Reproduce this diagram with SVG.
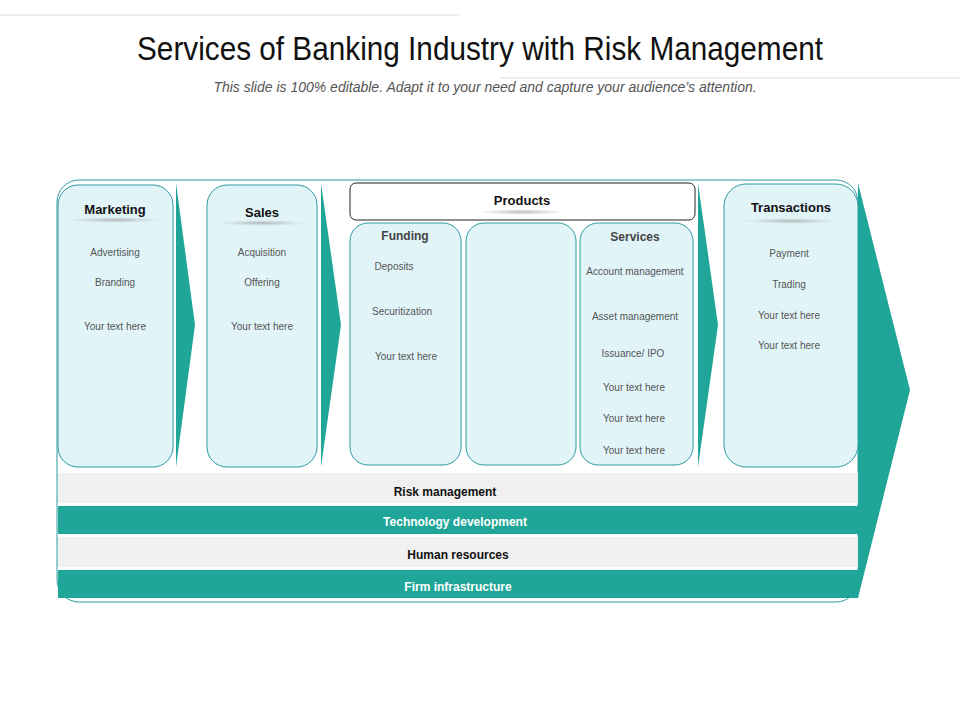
<svg xmlns="http://www.w3.org/2000/svg" width="960" height="720" viewBox="0 0 960 720">
<defs>
<style>
.col{fill:#e1f4f8;stroke:#2f9aa2;stroke-width:1}
.tl{font-family:"Liberation Sans",Arial,sans-serif;font-weight:bold;font-size:13px;fill:#111;text-anchor:middle}
.it{font-family:"Liberation Sans",Arial,sans-serif;font-size:10px;fill:#555;text-anchor:middle}
.bl{font-family:"Liberation Sans",Arial,sans-serif;font-weight:bold;font-size:12px;text-anchor:middle}
.teal{fill:#1fa698}
</style>
<radialGradient id="sh" cx="0.5" cy="0.5" r="0.5"><stop offset="0" stop-color="#999" stop-opacity="0.7"/><stop offset="1" stop-color="#bbb" stop-opacity="0"/></radialGradient>
</defs>
<rect width="960" height="720" fill="#fff"/>
<line x1="0" y1="15" x2="460" y2="15" stroke="#ddd"/>
<line x1="500" y1="78" x2="960" y2="78" stroke="#ddd"/>
<text x="480" y="60" font-family="'Liberation Sans Narrow','Liberation Sans',Arial,sans-serif" font-size="33" text-anchor="middle" fill="#111" textLength="686" lengthAdjust="spacingAndGlyphs">Services of Banking Industry with Risk Management</text>
<text x="485" y="92" font-family="'Liberation Sans',Arial,sans-serif" font-style="italic" font-size="14" text-anchor="middle" fill="#555">This slide is 100% editable. Adapt it to your need and capture your audience’s attention.</text>
<g id="frame">
<rect x="57" y="180" width="801" height="422" rx="22" fill="none" stroke="#2f9aa2"/>
<polygon class="teal" points="858,183 910,390 858,598"/>
<polygon class="teal" points="176,183 195,325 176,467"/>
<polygon class="teal" points="321,183 341,325 321,467"/>
<polygon class="teal" points="698,183 718,325 698,467"/>
</g>
<g id="marketing">
<rect class="col" x="58" y="185" width="115" height="282" rx="20"/>
<ellipse cx="115" cy="220" rx="50" ry="3" fill="url(#sh)"/>
<text class="tl" x="115" y="214">Marketing</text>
<text class="it" x="115" y="256">Advertising</text>
<text class="it" x="115" y="286">Branding</text>
<text class="it" x="115" y="330">Your text here</text>
</g>
<g id="sales">
<rect class="col" x="207" y="185" width="110" height="282" rx="20"/>
<ellipse cx="262" cy="223" rx="45" ry="3" fill="url(#sh)"/>
<text class="tl" x="262" y="217">Sales</text>
<text class="it" x="262" y="256">Acquisition</text>
<text class="it" x="262" y="286">Offering</text>
<text class="it" x="262" y="330">Your text here</text>
</g>
<g id="products">
<rect x="350" y="183" width="345" height="37" rx="6" fill="#fff" stroke="#222"/>
<ellipse cx="522" cy="212" rx="45" ry="3" fill="url(#sh)"/>
<text class="tl" x="522" y="205">Products</text>
</g>
<g id="funding">
<rect class="col" x="350" y="223" width="111" height="242" rx="18"/>
<text class="tl" x="405" y="240" style="fill:#444;font-size:12px">Funding</text>
<text class="it" x="394" y="270">Deposits</text>
<text class="it" x="402" y="315">Securitization</text>
<text class="it" x="406" y="360">Your text here</text>
</g>
<g id="blank">
<rect class="col" x="466" y="223" width="110" height="242" rx="18"/>
</g>
<g id="services">
<rect class="col" x="580" y="223" width="113" height="242" rx="18"/>
<text class="tl" x="635" y="241" style="fill:#444;font-size:12px">Services</text>
<text class="it" x="635" y="275">Account management</text>
<text class="it" x="635" y="320">Asset management</text>
<text class="it" x="633" y="357">Issuance/ IPO</text>
<text class="it" x="634" y="391">Your text here</text>
<text class="it" x="634" y="422">Your text here</text>
<text class="it" x="634" y="454">Your text here</text>
</g>
<g id="transactions">
<rect class="col" x="724" y="184" width="134" height="283" rx="22"/>
<ellipse cx="791" cy="221" rx="50" ry="3" fill="url(#sh)"/>
<text class="tl" x="791" y="212">Transactions</text>
<text class="it" x="789" y="257">Payment</text>
<text class="it" x="789" y="288">Trading</text>
<text class="it" x="789" y="319">Your text here</text>
<text class="it" x="789" y="349">Your text here</text>
</g>
<g id="bands">
<rect x="58" y="473" width="800" height="30" fill="#f0f0f0"/>
<text class="bl" x="445" y="496" fill="#111">Risk management</text>
<rect class="teal" x="58" y="506" width="800" height="28"/>
<text class="bl" x="455" y="526" fill="#fff">Technology development</text>
<rect x="58" y="537" width="800" height="30" fill="#f0f0f0"/>
<text class="bl" x="458" y="559" fill="#111">Human resources</text>
<rect class="teal" x="58" y="570" width="800" height="28"/>
<text class="bl" x="458" y="591" fill="#fff">Firm infrastructure</text>
</g>
<g id="connectors"></g>
</svg>
